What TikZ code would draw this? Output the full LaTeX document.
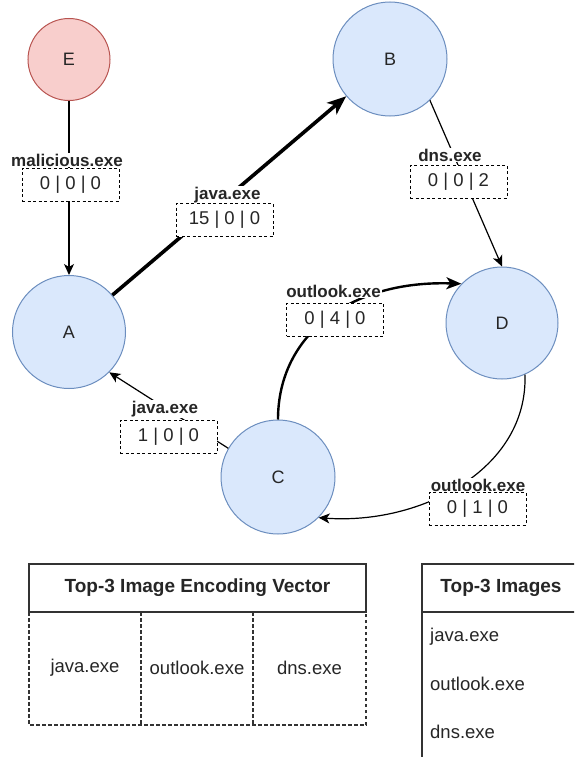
\documentclass[tikz,border=0pt]{standalone}
\usepackage{fontspec}
\setmainfont{Liberation Sans}
\usetikzlibrary{arrows.meta}
\definecolor{bluefill}{HTML}{DAE8FC}
\definecolor{bluedraw}{HTML}{6C8EBF}
\definecolor{redfill}{HTML}{F8CECC}
\definecolor{reddraw}{HTML}{B85450}
\definecolor{ink}{HTML}{262626}
\definecolor{rule}{HTML}{333333}

\tikzset{
  proc/.style={circle, draw=bluedraw, fill=bluefill, line width=1pt, inner sep=0pt,
    text=ink, font=\fontsize{18}{22}\selectfont},
  mal/.style={proc, draw=reddraw, fill=redfill},
  ename/.style={fill=white, inner sep=1pt, text=ink, font=\bfseries\fontsize{17}{20}\selectfont},
  ebox/.style={draw=black, line width=0.9pt, dash pattern=on 3pt off 2.5pt, fill=white,
    minimum width=97pt, minimum height=33pt, inner sep=0pt, text=ink,
    font=\fontsize{18.5}{22}\selectfont},
  flow/.style={-{Stealth[length=11pt,width=10pt,inset=3pt]}, line width=1.2pt, draw=black},
  heavyflow/.style={-{Stealth[length=19pt,width=15pt,inset=5pt]}, line width=3.6pt, draw=black},
  midflow/.style={-{Stealth[length=15pt,width=12pt,inset=4pt]}, line width=2.4pt, draw=black},
  cell/.style={inner sep=0pt, text=ink, font=\fontsize{18.5}{22}\selectfont},
  head/.style={inner sep=0pt, text=ink, font=\bfseries\fontsize{19}{22}\selectfont},
  solidrule/.style={draw=rule, line width=1.2pt},
  dashrule/.style={draw=rule, line width=1.1pt, dash pattern=on 3.5pt off 2.5pt},
}

\begin{document}
\begin{tikzpicture}[x=1pt, y=-1pt]
\clip (0,0) rectangle (574,757);
\fill[white] (0,0) rectangle (574,757);

% process nodes
\node[mal,  minimum size=82pt]  (E) at (69,59.5) {E};
\node[proc, minimum size=114pt] (B) at (390,59)  {B};
\node[proc, minimum size=113pt] (A) at (69,332)  {A};
\node[proc, minimum size=112pt] (D) at (502,323) {D};
\node[proc, minimum size=114pt] (C) at (278,477) {C};

% connectors
\draw[flow] (E) -- (A);
\draw[heavyflow] (A) -- (B);
\draw[flow] (B.-46) -- (D.north);
\draw[flow] (C.150) -- (A.-45);
\draw[midflow] (C.north) .. controls (278,335) and (350,280) .. (D.136);
\draw[flow] (D.-66) .. controls (528,470) and (420,525) .. (C.-45);

% connector labels: image name over a dashed count box
\node[ename] (nE) at (67,160) {malicious.exe};
\node[ebox]  (cE) at (70.5,184.5) {0 | 0 | 0};
\node[ename] (nAB) at (227.5,195) {java.exe};
\node[ebox]  (cAB) at (224.5,220) {15 | 0 | 0};
\node[ename] (nBD) at (450,155) {dns.exe};
\node[ebox]  (cBD) at (458.5,181.5) {0 | 0 | 2};
\node[ename] (nCD) at (333.5,291) {outlook.exe};
\node[ebox]  (cCD) at (335,319.5) {0 | 4 | 0};
\node[ename] (nDC) at (478,485) {outlook.exe};
\node[ebox]  (cDC) at (477.5,508.5) {0 | 1 | 0};
\node[ename] (nCA) at (165,409) {java.exe};
\node[ebox]  (cCA) at (168.5,436.5) {1 | 0 | 0};

% encoding vector table
\draw[solidrule] (29,564) rectangle (366,612);
\draw[dashrule] (29,612) rectangle (366,725);
\draw[dashrule] (141,612) -- (141,725);
\draw[dashrule] (253,612) -- (253,725);
\node[head] (vh) at (197.5,588) {Top-3 Image Encoding Vector};
\node[cell] (v1) at (85,668) {java.exe};
\node[cell] (v2) at (197,668) {outlook.exe};
\node[cell] (v3) at (309.5,668) {dns.exe};

% image list
\draw[solidrule] (422,564) rectangle (590,612);
\draw[solidrule] (422,612) -- (422,770);
\node[head] (ih) at (501,588) {Top-3 Images};
\node[cell, anchor=west] (i1) at (430,637) {java.exe};
\node[cell, anchor=west] (i2) at (430,684) {outlook.exe};
\node[cell, anchor=west] (i3) at (430,732) {dns.exe};
\end{tikzpicture}
\end{document}
